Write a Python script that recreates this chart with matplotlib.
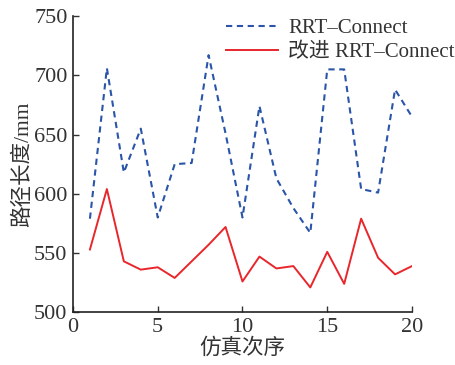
import matplotlib
matplotlib.use("Agg")
import matplotlib.pyplot as plt

runs = list(range(1, 21))
rrt_connect = [579, 706, 618, 655, 580, 625, 626, 717, 651, 580,
               674, 613, 588, 567, 705, 705, 604, 601, 688, 665]
improved = [553, 604, 543, 536, 538, 529, 543, 557, 572, 526,
            547, 537, 539, 521, 551, 524, 579, 546, 532, 539]

xticks = [0, 5, 10, 15, 20]
yticks = [500, 550, 600, 650, 700, 750]

serif = ['Liberation Serif', 'Noto Sans CJK SC']
plt.rcParams['font.family'] = serif
plt.rcParams['font.size'] = 16


def main():
    fig = plt.figure(figsize=(4.55, 3.65), dpi=100)
    ax = fig.add_axes([0.1604, 0.1444, 0.7451, 0.8116])

    ax.plot(runs, rrt_connect, color='#2a55a8', linewidth=1.5,
            linestyle='--', dashes=(3, 2.2), label='RRT\u2013Connect')
    ax.plot(runs, improved, color='#e8262b', linewidth=1.4,
            label='改进 RRT\u2013Connect')

    ax.set_xlim(0, 20)
    ax.set_ylim(500, 750)
    ax.set_xticks(xticks)
    ax.set_yticks(yticks)
    ax.tick_params(direction='in', length=4, width=1, color='#333333',
                   labelsize=16, pad=4)
    for s in ['top', 'right']:
        ax.spines[s].set_visible(False)
    for s in ['left', 'bottom']:
        ax.spines[s].set_linewidth(1.2)
        ax.spines[s].set_color('#222222')

    ax.set_xlabel('仿真次序', fontsize=15.5, labelpad=1, color='#333333')
    ax.set_ylabel('路径长度/mm', fontsize=15.5, labelpad=1, color='#333333')

    leg = ax.legend(loc='upper right', frameon=False, fontsize=15,
                    handlelength=2.5, handletextpad=0.5, labelspacing=0.2,
                    borderaxespad=0.0, bbox_to_anchor=(1.15, 1.02))
    for t in leg.get_texts():
        t.set_color('#333333')
    for lbl in ax.get_xticklabels() + ax.get_yticklabels():
        lbl.set_color('#333333')

    fig.savefig('out.png', dpi=100)
    plt.close(fig)


if __name__ == '__main__':
    main()
